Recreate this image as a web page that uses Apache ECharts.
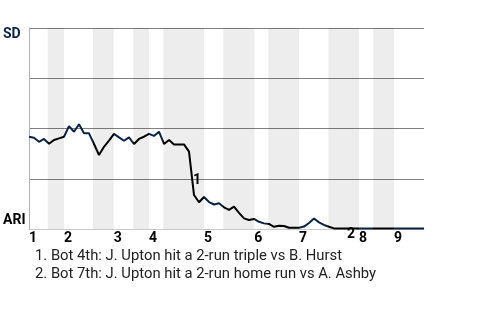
<!DOCTYPE html>
<html>
<head>
<meta charset="utf-8">
<script src="https://cdn.jsdelivr.net/npm/echarts@6/dist/echarts.min.js"></script>
<style>html,body{margin:0;padding:0;background:#fff}#c{width:480px;height:320px}</style>
</head>
<body>
<div id="c"></div>
<script>
// SD win probability (%) after each event (0 = ARI wins, 100 = SD wins)
const winSD = [45.9,45.4,43.4,44.8,42.4,44.3,45.1,45.9,51.2,48.4,
  52.1,47.6,47.6,42.3,36.8,40.9,44.0,47.3,45.6,43.9,
  45.6,42.3,44.8,45.9,47.3,46.3,48.4,42.3,44.3,42.1,
  42.1,42.1,38.5,16.9,13.3,15.9,13.4,12.2,12.8,10.8,
  9.5,11.1,8.0,5.3,4.5,5.0,3.6,2.8,2.5,1.1,
  1.6,1.5,0.6,0.6,0.6,1.2,3.0,5.2,3.3,2.0,
  1.1,0.3,0.2,0.2,0.2,0.2,0.2,0.2,0.2,0.2,
  0.2,0.2,0.2,0.2,0.2,0.2,0.2,0.2,0.2,0.2];
// event position where each half inning starts (top 1st, bot 1st, top 2nd, ...)
const halfInningStarts = [0,3.74,7,12.8,16.94,20.86,24,26.86,35,38.86,45.06,47.86,54,59.86,66,68.86,73];
const lastEvent = 79;
const innings = ['1','2','3','4','5','6','7','8','9'];
const teamTop = 'SD', teamBottom = 'ARI';
const notes = [
  '1. Bot 4th: J. Upton hit a 2-run triple vs B. Hurst',
  '2. Bot 7th: J. Upton hit a 2-run home run vs A. Ashby'
];
const noteEvents = [33, 64.4];
const noteValues = [16.9, 0.2];

const NAVY = '#0c2340', BLACK = '#000000';
const halfEnds = halfInningStarts.slice(1).concat([lastEvent]);
const bands = [];
const pieces = [];
halfInningStarts.forEach((s, i) => {
  const e = halfEnds[i];
  if (i % 2 === 1) bands.push([{xAxis: s}, {xAxis: e}]);
  const p = {gte: s, color: i % 2 === 1 ? BLACK : NAVY};
  if (i === halfInningStarts.length - 1) p.lte = e; else p.lt = e;
  pieces.push(p);
});
const inningStarts = halfInningStarts.filter((v, i) => i % 2 === 0);
const lineData = winSD.map((v, i) => [i, v]);

const chart = echarts.init(document.getElementById('c'), null, {renderer: 'canvas'});
chart.setOption({
  animation: false,
  textStyle: {fontFamily: 'Roboto'},
  title: {
    text: notes.join('\n'),
    left: 30, top: 242,
    textStyle: {fontSize: 14.8, fontWeight: 'normal', color: '#222', lineHeight: 18.5, fontFamily: 'Roboto'}
  },
  grid: {left: 29, top: 28, right: 56, bottom: 91, containLabel: false},
  visualMap: {show: false, type: 'piecewise', dimension: 0, seriesIndex: 0, pieces: pieces},
  xAxis: {
    type: 'value', min: 0, max: lastEvent,
    splitLine: {show: false},
    axisTick: {show: false},
    axisLine: {show: true, onZero: false, lineStyle: {color: '#c8c8c8', width: 1}},
    axisLabel: {
      customValues: inningStarts,
      formatter: v => innings[inningStarts.findIndex(s => Math.abs(s - v) < 1e-6)] || '',
      align: 'left', margin: 2,
      fontSize: 14, fontWeight: 'bold', color: '#000', fontFamily: 'Roboto'
    }
  },
  yAxis: {
    type: 'value', min: 0, max: 100, interval: 25,
    axisTick: {show: false},
    axisLine: {show: true, lineStyle: {color: '#b0b0b0', width: 1}},
    splitLine: {show: true, showMinLine: false, lineStyle: {color: '#808080', width: 1}},
    axisLabel: {
      align: 'left', margin: 26,
      formatter: v => v === 100 ? '{top|' + teamTop + '}' : (v === 0 ? '{bot|' + teamBottom + '}' : ''),
      rich: {
        top: {fontSize: 14, fontWeight: 'bold', color: NAVY, fontFamily: 'Roboto', padding: [12, 0, 0, 0]},
        bot: {fontSize: 14, fontWeight: 'bold', color: '#000', fontFamily: 'Roboto', padding: [0, 0, 18, 0]}
      }
    }
  },
  series: [
    {
      type: 'line',
      data: lineData,
      symbol: 'none',
      lineStyle: {width: 2},
      z: 3,
      markArea: {
        silent: true,
        itemStyle: {color: 'rgba(0,0,0,0.07)'},
        data: bands
      }
    },
    {
      type: 'scatter',
      symbolSize: 0,
      z: 4,
      silent: true,
      itemStyle: {opacity: 1},
      data: noteEvents.map((x, i) => [x, noteValues[i]]),
      label: {
        show: true, position: 'inside', opacity: 1,
        formatter: p => String(p.dataIndex + 1),
        fontSize: 14, fontWeight: 'bold', color: '#000', fontFamily: 'Roboto',
        textBorderWidth: 0, textBorderColor: 'transparent'
      },
      labelLayout: function (params) {
        return params.dataIndex === 0 ? {dx: 3, dy: -15} : {dx: 0, dy: 6};
      }
    }
  ]
});
</script>
</body>
</html>
